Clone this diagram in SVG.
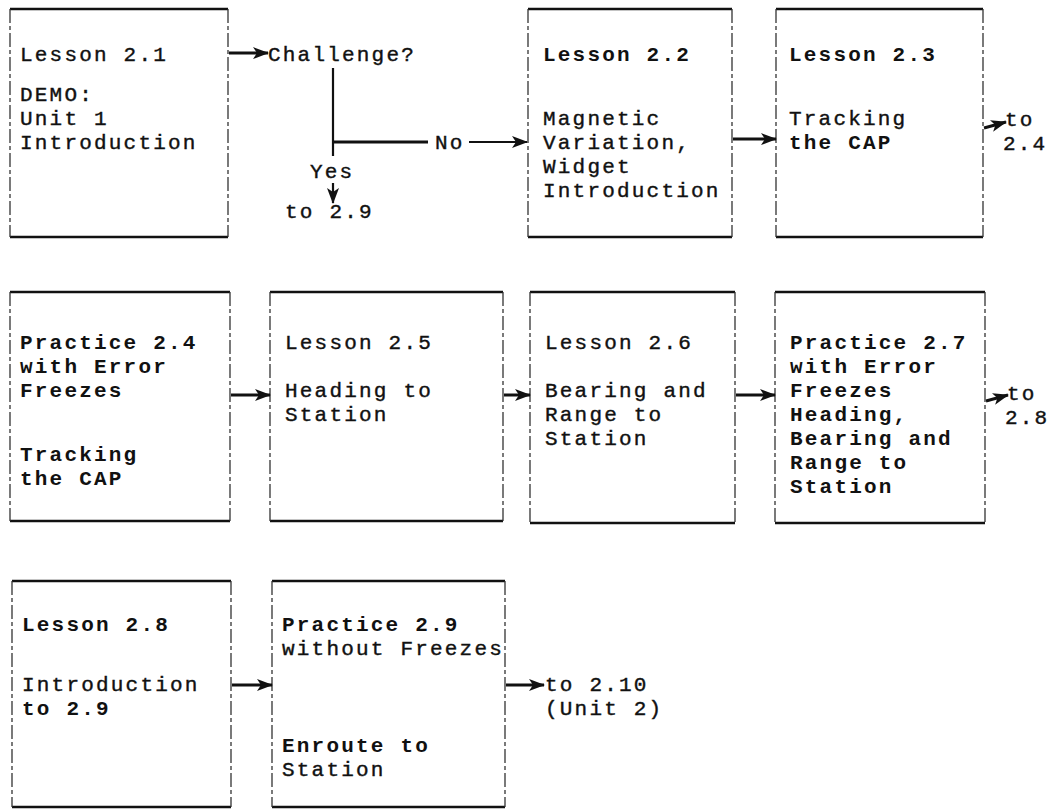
<svg xmlns="http://www.w3.org/2000/svg" width="1060" height="810" viewBox="0 0 1060 810">
<defs>
<style>
.bg{fill:#fff}
.hz{stroke:#111;stroke-width:2.4;fill:none}
.vt{stroke:#333;stroke-width:1.3;fill:none;stroke-dasharray:14 3 4 3}
text{font-family:"Liberation Mono","Courier New",monospace;font-size:21px;letter-spacing:2.2px;fill:#111;stroke:#111;stroke-width:0.4}
.b{font-weight:bold;stroke-width:0}
.cn{stroke:#111;stroke-width:3;fill:none}
.th{stroke:#111;stroke-width:2.2;fill:none}
</style>
<marker id="ah" markerUnits="userSpaceOnUse" markerWidth="16" markerHeight="12" refX="15" refY="6" orient="auto">
<path d="M0,0 L16,6 L0,12 L4,6 Z" fill="#111"/>
</marker>
</defs>
<rect class="bg" width="1060" height="810"/>

<g id="n21">
<line class="hz" x1="10" y1="9" x2="228" y2="9"/><line class="hz" x1="10" y1="237" x2="228" y2="237"/>
<line class="vt" x1="10" y1="9" x2="10" y2="237"/><line class="vt" x1="228" y1="9" x2="228" y2="237"/>
<text x="20" y="61">Lesson 2.1</text>
<text x="20" y="101">DEMO:</text>
<text x="20" y="125">Unit 1</text>
<text x="20" y="149">Introduction</text>
</g>

<g id="challenge">
<text x="268" y="61">Challenge?</text>
<text x="435" y="149">No</text>
<text x="310" y="178">Yes</text>
<text x="285" y="218">to 2.9</text>
</g>

<g id="n22">
<line class="hz" x1="528" y1="9" x2="732" y2="9"/><line class="hz" x1="528" y1="237" x2="732" y2="237"/>
<line class="vt" x1="528" y1="9" x2="528" y2="237"/><line class="vt" x1="732" y1="9" x2="732" y2="237"/>
<text class="b" x="543" y="61">Lesson 2.2</text>
<text x="543" y="125">Magnetic</text>
<text x="543" y="149">Variation,</text>
<text x="543" y="173">Widget</text>
<text x="543" y="197">Introduction</text>
</g>

<g id="n23">
<line class="hz" x1="776" y1="9" x2="983" y2="9"/><line class="hz" x1="776" y1="237" x2="983" y2="237"/>
<line class="vt" x1="776" y1="9" x2="776" y2="237"/><line class="vt" x1="983" y1="9" x2="983" y2="237"/>
<text class="b" x="789" y="61">Lesson 2.3</text>
<text x="789" y="125">Tracking</text>
<text class="b" x="789" y="149">the CAP</text>
</g>
<g id="to24">
<text x="1005" y="126">to</text>
<text x="1003" y="150">2.4</text>
</g>

<g id="n24">
<line class="hz" x1="10" y1="292" x2="230" y2="292"/><line class="hz" x1="10" y1="521" x2="230" y2="521"/>
<line class="vt" x1="10" y1="292" x2="10" y2="521"/><line class="vt" x1="230" y1="292" x2="230" y2="521"/>
<text class="b" x="20" y="349">Practice 2.4</text>
<text class="b" x="20" y="373">with Error</text>
<text class="b" x="20" y="397">Freezes</text>
<text class="b" x="20" y="461">Tracking</text>
<text class="b" x="20" y="485">the CAP</text>
</g>

<g id="n25">
<line class="hz" x1="270" y1="292" x2="503" y2="292"/><line class="hz" x1="270" y1="521" x2="503" y2="521"/>
<line class="vt" x1="270" y1="292" x2="270" y2="521"/><line class="vt" x1="503" y1="292" x2="503" y2="521"/>
<text x="285" y="349">Lesson 2.5</text>
<text x="285" y="397">Heading to</text>
<text x="285" y="421">Station</text>
</g>

<g id="n26">
<line class="hz" x1="530" y1="292" x2="735" y2="292"/><line class="hz" x1="530" y1="523" x2="735" y2="523"/>
<line class="vt" x1="530" y1="292" x2="530" y2="523"/><line class="vt" x1="735" y1="292" x2="735" y2="523"/>
<text x="545" y="349">Lesson 2.6</text>
<text x="545" y="397">Bearing and</text>
<text x="545" y="421">Range to</text>
<text x="545" y="445">Station</text>
</g>

<g id="n27">
<line class="hz" x1="775" y1="292" x2="985" y2="292"/><line class="hz" x1="775" y1="523" x2="985" y2="523"/>
<line class="vt" x1="775" y1="292" x2="775" y2="523"/><line class="vt" x1="985" y1="292" x2="985" y2="523"/>
<text class="b" x="790" y="349">Practice 2.7</text>
<text class="b" x="790" y="373">with Error</text>
<text class="b" x="790" y="397">Freezes</text>
<text class="b" x="790" y="421">Heading,</text>
<text class="b" x="790" y="445">Bearing and</text>
<text class="b" x="790" y="469">Range to</text>
<text class="b" x="790" y="493">Station</text>
</g>
<g id="to28">
<text x="1007" y="400">to</text>
<text x="1005" y="424">2.8</text>
</g>

<g id="n28">
<line class="hz" x1="12" y1="581" x2="231" y2="581"/><line class="hz" x1="12" y1="807" x2="231" y2="807"/>
<line class="vt" x1="12" y1="581" x2="12" y2="807"/><line class="vt" x1="231" y1="581" x2="231" y2="807"/>
<text class="b" x="22" y="631">Lesson 2.8</text>
<text x="22" y="691">Introduction</text>
<text class="b" x="22" y="715">to 2.9</text>
</g>

<g id="n29">
<line class="hz" x1="272" y1="581" x2="505" y2="581"/><line class="hz" x1="272" y1="807" x2="505" y2="807"/>
<line class="vt" x1="272" y1="581" x2="272" y2="807"/><line class="vt" x1="505" y1="581" x2="505" y2="807"/>
<text class="b" x="282" y="631">Practice 2.9</text>
<text x="282" y="655">without Freezes</text>
<text class="b" x="282" y="752">Enroute to</text>
<text x="282" y="776">Station</text>
</g>
<g id="to210">
<text x="545" y="691">to 2.10</text>
<text x="545" y="715">(Unit 2)</text>
</g>

<g id="connectors">
<line class="cn" x1="229" y1="53" x2="268" y2="53" marker-end="url(#ah)"/>
<line class="th" x1="333" y1="68" x2="333" y2="156"/>
<line class="cn" x1="333" y1="142" x2="428" y2="142"/>
<line class="th" x1="469" y1="142" x2="527" y2="142" marker-end="url(#ah)"/>
<line class="th" x1="333" y1="183" x2="333" y2="203" marker-end="url(#ah)"/>
<line class="cn" x1="733" y1="139" x2="776" y2="139" marker-end="url(#ah)"/>
<line class="cn" x1="984" y1="128" x2="1006" y2="122" marker-end="url(#ah)"/>
<line class="cn" x1="231" y1="395" x2="270" y2="395" marker-end="url(#ah)"/>
<line class="cn" x1="504" y1="395" x2="530" y2="395" marker-end="url(#ah)"/>
<line class="cn" x1="736" y1="395" x2="775" y2="395" marker-end="url(#ah)"/>
<line class="cn" x1="986" y1="401" x2="1008" y2="395" marker-end="url(#ah)"/>
<line class="cn" x1="232" y1="685" x2="272" y2="685" marker-end="url(#ah)"/>
<line class="cn" x1="506" y1="685" x2="544" y2="685" marker-end="url(#ah)"/>
</g>
</svg>
